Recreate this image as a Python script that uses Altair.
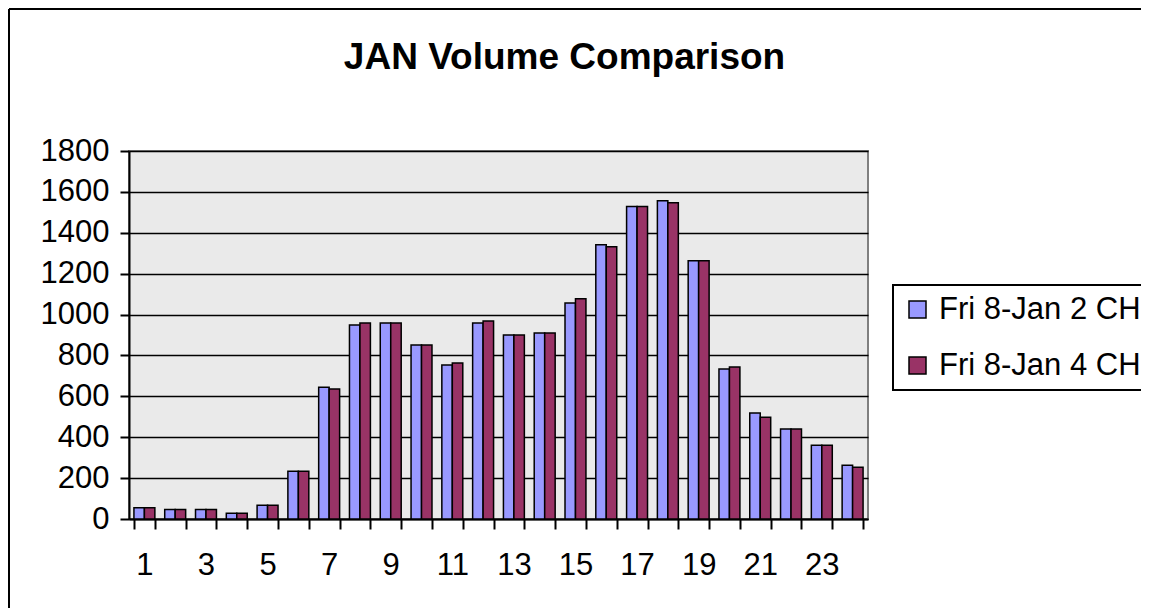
import altair as alt
import pandas as pd

hours = [str(h) for h in range(1, 25)]
series_names = ["Fri 8-Jan 2 CH", "Fri 8-Jan 4 CH"]
ch2 = [55, 47, 47, 28, 67, 234, 645, 949, 959, 851, 753, 959, 900, 910, 1057, 1342, 1528, 1557, 1263, 734, 518, 440, 361, 263]
ch4 = [55, 47, 47, 28, 67, 234, 636, 959, 959, 851, 763, 969, 900, 910, 1077, 1332, 1528, 1547, 1263, 743, 498, 440, 361, 253]
y_ticks = [0, 200, 400, 600, 800, 1000, 1200, 1400, 1600, 1800]
colors = ["#9999FF", "#993366"]

rows = []
for i, h in enumerate(hours):
    rows.append({"hour": h, "series": series_names[0], "value": ch2[i]})
    rows.append({"hour": h, "series": series_names[1], "value": ch4[i]})
df = pd.DataFrame(rows)

FONT = "Liberation Sans"
LFS = 31

bars = alt.Chart(df).mark_bar(stroke="black", strokeWidth=1.5).encode(
    x=alt.X("hour:N", sort=hours, title=None,
            scale=alt.Scale(paddingInner=0.32, paddingOuter=0.16),
            axis=alt.Axis(labelAngle=0, tickBand="extent", grid=False,
                          labelExpr="toNumber(datum.value) % 2 == 1 ? datum.label : ''",
                          labelFontSize=LFS, labelFont=FONT, labelColor="black",
                          labelPadding=21, tickSize=10, tickWidth=2, tickColor="black",
                          domainColor="black", domainWidth=2, labelOverlap=False)),
    xOffset=alt.XOffset("series:N", sort=series_names, scale=alt.Scale(paddingInner=0)),
    y=alt.Y("value:Q", title=None,
            scale=alt.Scale(domain=[0, 1800], nice=False),
            axis=alt.Axis(values=y_ticks, format="d", labelFontSize=LFS, labelFont=FONT, labelColor="black",
                          labelPadding=11, tickSize=9, tickWidth=2, tickColor="black",
                          domainColor="black", domainWidth=2,
                          grid=True, gridColor="black", gridWidth=1.5, gridOpacity=1)),
    color=alt.Color("series:N", sort=series_names,
                    scale=alt.Scale(domain=series_names, range=colors),
                    legend=alt.Legend(title=None, orient="none", legendX=764, legendY=134,
                                      symbolType="square", symbolSize=289,
                                      symbolStrokeColor="black", symbolStrokeWidth=1.5,
                                      labelFontSize=LFS, labelFont=FONT, labelColor="black",
                                      labelLimit=400, labelOffset=6, rowPadding=24,
                                      padding=9, strokeColor="black", fillColor="white")),
)

frame_df = pd.DataFrame({"k": [0]})
left_line = alt.Chart(frame_df).mark_rule(color="black", strokeWidth=2).encode(
    x=alt.value(-120), y=alt.value(-142), y2=alt.value(460))
top_line = alt.Chart(frame_df).mark_rule(color="black", strokeWidth=2).encode(
    x=alt.value(-120), x2=alt.value(1020), y=alt.value(-142))

chart = alt.layer(bars, left_line, top_line).properties(
    width=739, height=368,
    title=alt.TitleParams("JAN Volume Comparison", fontSize=37, font=FONT, fontWeight="bold",
                          color="black", anchor="middle", frame="group", dx=66, offset=-69),
    autosize=alt.AutoSizeParams(type="none"),
    padding={"left": 121, "top": 143, "right": 273, "bottom": 89},
).configure_view(
    fill="#EAEAEA", stroke="#808080", strokeWidth=2
).configure_legend(
    strokeWidth=2
)

chart.save("out.html", embed_options={"renderer": "svg", "actions": False})
